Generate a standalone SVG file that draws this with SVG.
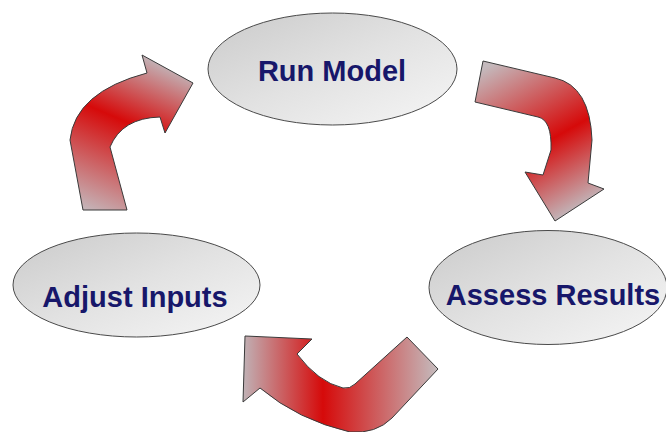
<svg xmlns="http://www.w3.org/2000/svg" width="666" height="432" viewBox="0 0 666 432">
  <defs>
    <linearGradient id="ellFill" x1="0" y1="0" x2="1" y2="1">
      <stop offset="0" stop-color="#cacaca"/>
      <stop offset="0.5" stop-color="#e2e2e2"/>
      <stop offset="1" stop-color="#f6f6f6"/>
    </linearGradient>
    <linearGradient id="g1" gradientUnits="userSpaceOnUse" x1="66" y1="203" x2="132" y2="50">
      <stop offset="0" stop-color="#c4b8bc"/>
      <stop offset="0.59" stop-color="#d60a0a"/>
      <stop offset="1" stop-color="#c2b4b8"/>
    </linearGradient>
    <linearGradient id="g2" gradientUnits="userSpaceOnUse" x1="525" y1="45" x2="607" y2="192">
      <stop offset="0" stop-color="#c4babd"/>
      <stop offset="0.565" stop-color="#d60a0a"/>
      <stop offset="1" stop-color="#c2b4b8"/>
    </linearGradient>
    <linearGradient id="g3" gradientUnits="userSpaceOnUse" x1="243" y1="0" x2="438" y2="0">
      <stop offset="0" stop-color="#c0b2b6"/>
      <stop offset="0.41" stop-color="#d60a0a"/>
      <stop offset="1" stop-color="#c4bcbe"/>
    </linearGradient>
  </defs>
  <style>
    .node ellipse { fill: url(#ellFill); stroke: #4a4a4a; stroke-width: 1; }
    .node text { font-family: "Liberation Sans", Arial, sans-serif; font-weight: bold; font-size: 29px; fill: #17176a; text-anchor: middle; }
    .arrow { stroke: #3a3a3a; stroke-width: 1; stroke-linejoin: miter; }
  </style>
  <rect width="666" height="432" fill="#ffffff"/>

  <g id="connectors">
    <path id="arrow-adjust-to-run" class="arrow" fill="url(#g1)" d="M83,210 L70,140 Q75,92 147,73 L142,55 L193,83 L165,133 L160,117 Q122,118 110,147 L127,210 Z"/>
    <path id="arrow-run-to-assess" class="arrow" fill="url(#g2)" d="M483,61 L555,78 Q590,86 592,140 L588,183 L604,189 L555,221 L525,172 L543,175 L551,150 Q552,120 538,117 L475,102 Z"/>
    <path id="arrow-assess-to-adjust" class="arrow" fill="url(#g3)" d="M245,336 L312,339 L297,354 Q318,382 343,388 Q350,389 355,384 L407,337 L438,369 L392,418 Q376,434 350,432 Q298,420 260,388 L243,402 Z"/>
  </g>

  <g id="node-run-model" class="node">
    <ellipse cx="332.5" cy="69" rx="124.5" ry="56"/>
    <text x="332" y="81">Run Model</text>
  </g>
  <g id="node-adjust-inputs" class="node">
    <ellipse cx="136.5" cy="285" rx="123.5" ry="52"/>
    <text x="135" y="307">Adjust Inputs</text>
  </g>
  <g id="node-assess-results" class="node">
    <ellipse cx="548" cy="287.5" rx="119" ry="57"/>
    <text x="553" y="305">Assess Results</text>
  </g>
</svg>
